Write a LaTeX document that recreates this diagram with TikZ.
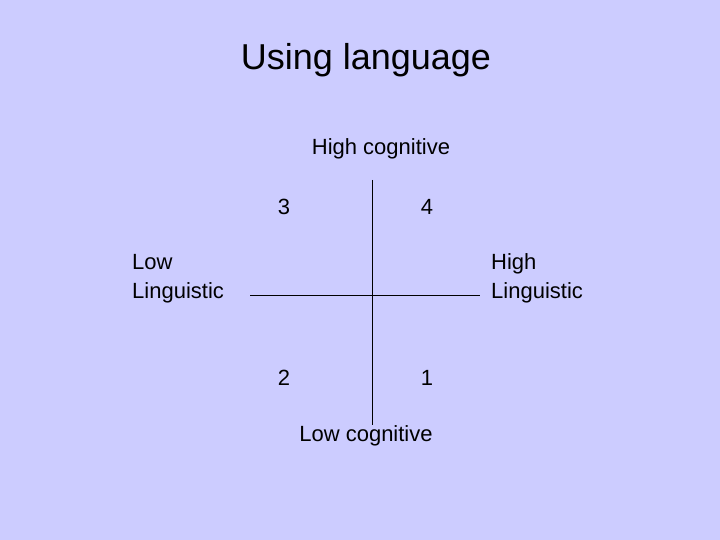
\documentclass[tikz,border=0pt]{standalone}
\usepackage{fontspec}
\setmainfont{Liberation Sans}
\definecolor{bg}{RGB}{204,204,255}
\begin{document}
\begin{tikzpicture}[x=1pt,y=-1pt,
  lbl/.style={font=\fontsize{22}{29}\selectfont, align=left, inner sep=0pt},
  axis/.style={draw=black, line width=0.8pt}]
\fill[bg] (0,0) rectangle (720,540);
\useasboundingbox (0,0) rectangle (720,540);
\node[font=\fontsize{36}{42}\selectfont, inner sep=0pt] (title) at (366,60) {Using language};
\node[lbl] (hc) at (381,149) {High cognitive};
\node[lbl] (lc) at (366,436) {Low cognitive};
\node[lbl, anchor=west] (ll) at (132,279) {Low\\Linguistic};
\node[lbl, anchor=west] (hl) at (491,278) {High\\Linguistic};
\node[lbl] (n3) at (284,207) {3};
\node[lbl] (n4) at (427,207) {4};
\node[lbl] (n2) at (284,378) {2};
\node[lbl] (n1) at (427,378) {1};
\coordinate (top) at (372,180);
\coordinate (bot) at (372,425);
\coordinate (lft) at (250,295);
\coordinate (rgt) at (480,295);
\draw[axis] (top) -- (bot);
\draw[axis] (lft) -- (rgt);
\end{tikzpicture}
\end{document}
